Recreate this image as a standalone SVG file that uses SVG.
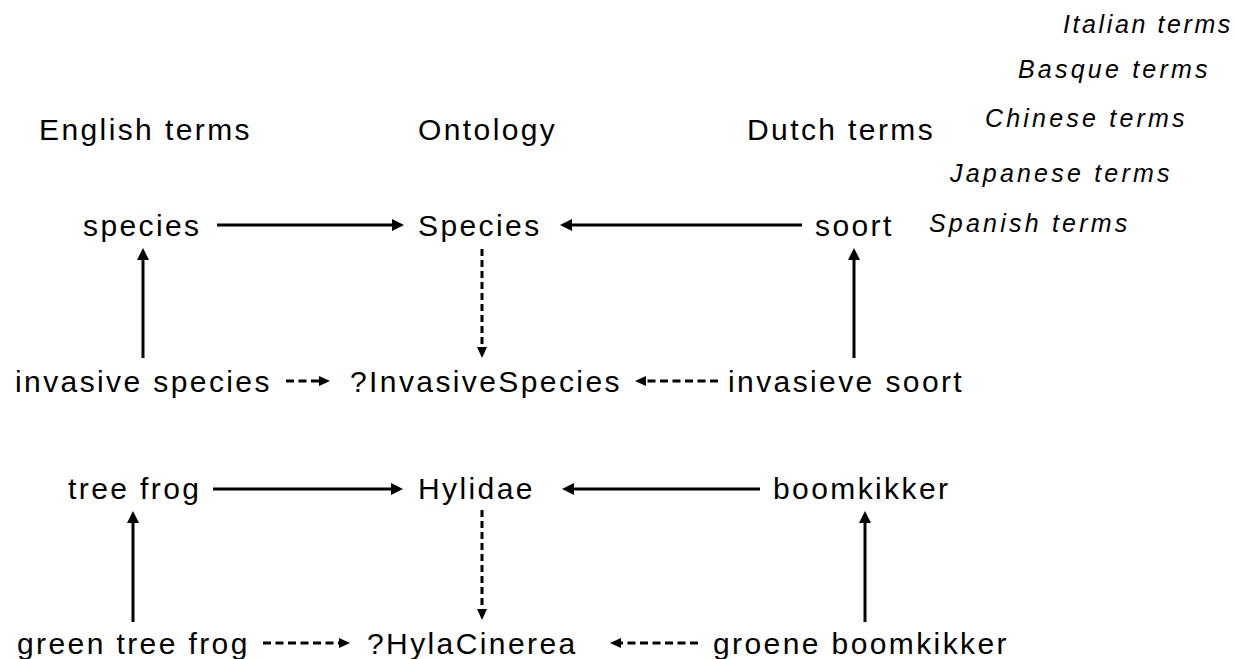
<svg xmlns="http://www.w3.org/2000/svg" width="1236" height="659" viewBox="0 0 1236 659">
<style>
text{font-family:"Liberation Sans",Arial,sans-serif;fill:#000}
.t{font-size:30px;letter-spacing:2.4px}
.i{font-size:25px;letter-spacing:3.2px;font-style:italic}
.s{stroke:#000;stroke-width:3;fill:none}
.dh{stroke:#000;stroke-width:3;fill:none;stroke-dasharray:8 4.5}
.dv{stroke:#000;stroke-width:3;fill:none;stroke-dasharray:7 4}
</style>
<defs>
<marker id="ah" markerUnits="userSpaceOnUse" markerWidth="12" markerHeight="12" refX="4" refY="6" orient="auto">
<path d="M0,0 L12,6 L0,12 z" fill="#000"/>
</marker>
<marker id="ahs" markerUnits="userSpaceOnUse" markerWidth="11" markerHeight="10" refX="3" refY="5" orient="auto">
<path d="M0,0 L11,5 L0,10 z" fill="#000"/>
</marker>
</defs>
<rect width="1236" height="659" fill="#fff"/>
<g id="headers">
<text class="t" x="39" y="140">English terms</text>
<text class="t" x="418" y="140">Ontology</text>
<text class="t" x="747" y="140">Dutch terms</text>
</g>
<g id="languages">
<text class="i" x="1063" y="33" style="letter-spacing:2.6px">Italian terms</text>
<text class="i" x="1018" y="78">Basque terms</text>
<text class="i" x="985" y="127">Chinese terms</text>
<text class="i" x="950" y="182">Japanese terms</text>
<text class="i" x="929" y="232">Spanish terms</text>
</g>
<g id="n-species"><text class="t" x="83" y="236">species</text></g>
<g id="n-Species"><text class="t" x="418" y="236">Species</text></g>
<g id="n-soort"><text class="t" x="815" y="236">soort</text></g>
<g id="n-invasive-species"><text class="t" x="15" y="392">invasive species</text></g>
<g id="n-InvasiveSpecies"><text class="t" x="350" y="392">?InvasiveSpecies</text></g>
<g id="n-invasieve-soort"><text class="t" x="728" y="392">invasieve soort</text></g>
<g id="n-tree-frog"><text class="t" x="68" y="499">tree frog</text></g>
<g id="n-Hylidae"><text class="t" x="418" y="499">Hylidae</text></g>
<g id="n-boomkikker"><text class="t" x="773" y="499">boomkikker</text></g>
<g id="n-green-tree-frog"><text class="t" x="17" y="654">green tree frog</text></g>
<g id="n-HylaCinerea"><text class="t" x="367" y="654">?HylaCinerea</text></g>
<g id="n-groene-boomkikker"><text class="t" x="713" y="654">groene boomkikker</text></g>
<g id="connectors">
<line class="s" x1="217" y1="225" x2="396" y2="225" marker-end="url(#ah)"/>
<line class="s" x1="802" y1="225" x2="568" y2="225" marker-end="url(#ah)"/>
<line class="s" x1="143" y1="358" x2="143" y2="256" marker-end="url(#ah)"/>
<line class="s" x1="854" y1="358" x2="854" y2="256" marker-end="url(#ah)"/>
<line class="dv" x1="482" y1="249" x2="482" y2="350" marker-end="url(#ahs)"/>
<line class="dh" x1="286" y1="381" x2="322" y2="381" marker-end="url(#ahs)"/>
<line class="dh" x1="718" y1="381" x2="643" y2="381" marker-end="url(#ahs)"/>
<line class="s" x1="213" y1="489" x2="395" y2="489" marker-end="url(#ah)"/>
<line class="s" x1="760" y1="489" x2="570" y2="489" marker-end="url(#ah)"/>
<line class="s" x1="133" y1="622" x2="133" y2="519" marker-end="url(#ah)"/>
<line class="s" x1="865" y1="622" x2="865" y2="519" marker-end="url(#ah)"/>
<line class="dv" x1="482" y1="510" x2="482" y2="612" marker-end="url(#ahs)"/>
<line class="dh" x1="263" y1="643" x2="342" y2="643" marker-end="url(#ahs)"/>
<line class="dh" x1="698" y1="643" x2="618" y2="643" marker-end="url(#ahs)"/>
</g>
</svg>
